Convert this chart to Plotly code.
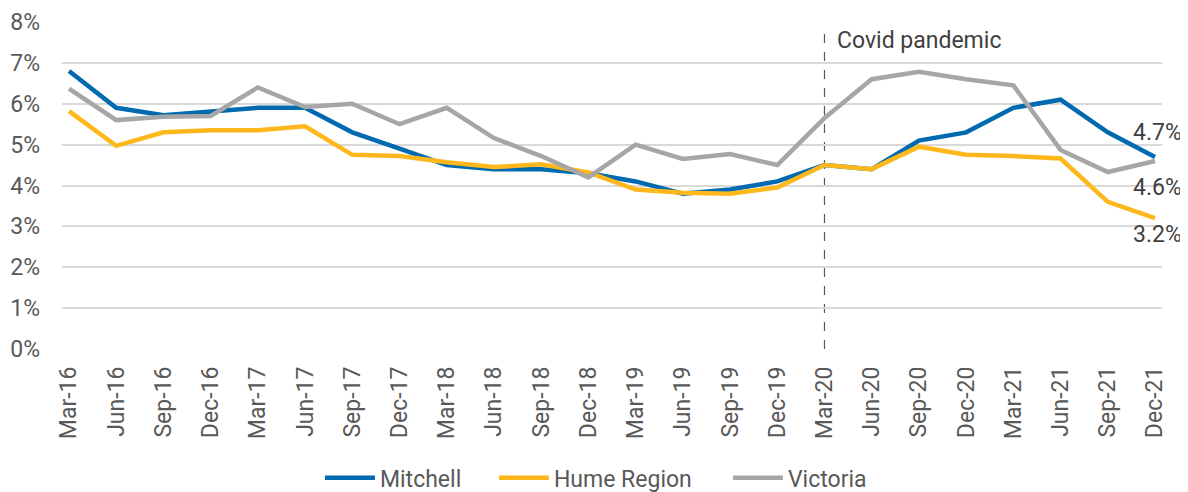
import plotly.graph_objects as go

quarters = ["Mar-16", "Jun-16", "Sep-16", "Dec-16", "Mar-17", "Jun-17", "Sep-17", "Dec-17",
            "Mar-18", "Jun-18", "Sep-18", "Dec-18", "Mar-19", "Jun-19", "Sep-19", "Dec-19",
            "Mar-20", "Jun-20", "Sep-20", "Dec-20", "Mar-21", "Jun-21", "Sep-21", "Dec-21"]

mitchell = [6.8, 5.9, 5.72, 5.8, 5.9, 5.9, 5.3, 4.9, 4.5, 4.4, 4.4, 4.3,
            4.1, 3.8, 3.9, 4.1, 4.5, 4.4, 5.1, 5.3, 5.9, 6.1, 5.3, 4.7]
hume = [5.82, 4.97, 5.3, 5.35, 5.35, 5.45, 4.75, 4.72, 4.57, 4.45, 4.52, 4.32,
        3.9, 3.82, 3.8, 3.95, 4.5, 4.4, 4.95, 4.75, 4.72, 4.66, 3.6, 3.2]
victoria = [6.37, 5.6, 5.68, 5.7, 6.4, 5.92, 6.0, 5.5, 5.9, 5.16, 4.72, 4.2,
            5.0, 4.65, 4.77, 4.5, 5.65, 6.6, 6.78, 6.6, 6.45, 4.87, 4.33, 4.6]

series_names = ["Mitchell", "Hume Region", "Victoria"]
series_colors = ["#006AB0", "#FFB81C", "#A6A6A6"]
legend_widths = [109, 169, None]
y_ticks = [0, 1, 2, 3, 4, 5, 6, 7, 8]
y_tick_labels = [f"{v}%" for v in y_ticks]
end_labels = ["4.7%", "3.2%", "4.6%"]
covid_label = "Covid pandemic"
covid_start = "Mar-20"

FONT = "Roboto"
TXT = "#595959"
DARK = "#404040"
FS = 23

fig = go.Figure()
for name, vals, col, lw in zip(series_names, [mitchell, hume, victoria], series_colors, legend_widths):
    fig.add_trace(go.Scatter(x=quarters, y=vals, name=name, mode="lines",
                             line=dict(color=col, width=4.5), cliponaxis=False,
                             legendwidth=lw))

# dashed covid line
fig.add_shape(type="line", xref="x", yref="y", x0=covid_start, x1=covid_start,
              y0=0, y1=7.87, line=dict(color=TXT, width=1.2, dash="dash"), layer="below")

fig.add_annotation(x=covid_start, y=8, xref="x", yref="y", text=covid_label, showarrow=False,
                   xanchor="left", yanchor="middle", xshift=11, yshift=-18,
                   font=dict(family=FONT, size=FS, color=DARK))

shifts = [24, -16, -27]
for lab, vals, ys in zip(end_labels, [mitchell, hume, victoria], shifts):
    fig.add_annotation(x=quarters[-1], y=vals[-1], xref="x", yref="y", text=lab, showarrow=False,
                       xanchor="center", yanchor="middle", xshift=2, yshift=ys,
                       font=dict(family=FONT, size=FS, color=DARK))

# the page body adds an 8px offset, so the figure is 8px smaller and margins compensate
fig.update_layout(
    width=1180, height=484,
    margin=dict(l=54, r=26, t=14, b=143, autoexpand=False),
    paper_bgcolor="white", plot_bgcolor="white",
    font=dict(family=FONT, size=FS, color=TXT),
    showlegend=True,
    legend=dict(orientation="h", x=0.2345, xanchor="left", y=-0.394, yanchor="middle",
                itemwidth=50,
                font=dict(family=FONT, size=FS, color=TXT), tracegroupgap=0),
)
fig.update_xaxes(type="category", range=[-0.148, 23.148], tickangle=-90,
                 showgrid=False, zeroline=False, showline=False, automargin=False,
                 ticks="", ticklabelstandoff=12,
                 tickfont=dict(family=FONT, size=FS, color=TXT))
fig.update_yaxes(range=[0, 8], tickvals=y_ticks, ticktext=y_tick_labels,
                 showgrid=True, gridcolor="#D9D9D9", gridwidth=1.5, automargin=False,
                 zeroline=False, showline=False, ticks="", ticklabelstandoff=21,
                 tickfont=dict(family=FONT, size=FS, color=TXT))

fig.write_html("out.html")
